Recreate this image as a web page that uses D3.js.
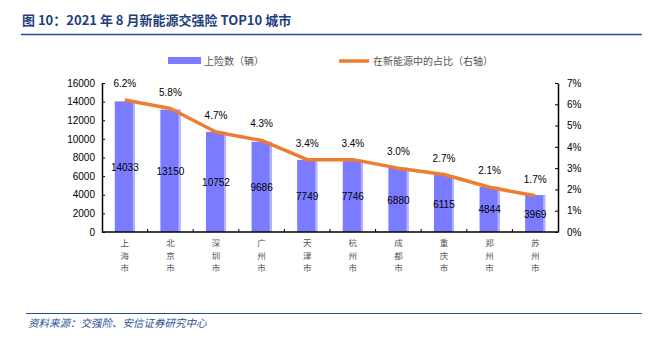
<!DOCTYPE html>
<html>
<head>
<meta charset="utf-8">
<script src="https://cdn.jsdelivr.net/npm/d3@7"></script>
<style>
  body { margin: 0; background: #fff; }
  svg { display: block; font-family: "Liberation Sans", Arial, sans-serif; }
</style>
</head>
<body>
<script>
// data
var cities  = ["上海市", "北京市", "深圳市", "广州市", "天津市", "杭州市", "成都市", "重庆市", "郑州市", "苏州市"];
var counts  = [14033, 13150, 10752, 9686, 7749, 7746, 6880, 6115, 4844, 3969];
var shares  = [6.2, 5.8, 4.7, 4.3, 3.4, 3.4, 3.0, 2.7, 2.1, 1.7];
var leftTicks  = [0, 2000, 4000, 6000, 8000, 10000, 12000, 14000, 16000];
var rightTicks = [0, 1, 2, 3, 4, 5, 6, 7];

var width = 656, height = 343;
var plotLeft = 102, plotRight = 558, plotTop = 83, plotBottom = 232;
var blue = "#1f4e9a", barColor = "#7b7bff", lineColor = "#ed7d31";

var svg = d3.select("body").append("svg")
    .attr("width", width)
    .attr("height", height);

// title + rule
svg.append("text")
    .attr("x", 22).attr("y", 25)
    .attr("font-family", "'Noto Sans CJK SC', sans-serif")
    .attr("font-size", 13).attr("font-weight", "bold")
    .attr("fill", "#1f3f7f")
    .text("图 10：2021 年 8 月新能源交强险 TOP10 城市");
svg.append("line")
    .attr("x1", 21).attr("x2", 642).attr("y1", 34.5).attr("y2", 34.5)
    .attr("stroke", blue).attr("stroke-width", 1.5);

var x = d3.scaleBand().domain(cities).range([plotLeft, plotRight]).paddingInner(0.56).paddingOuter(0.28);
var xb = d3.scaleBand().domain(cities).range([plotLeft, plotRight]);
var yL = d3.scaleLinear().domain([0, 16000]).range([plotBottom, plotTop]);
var yR = d3.scaleLinear().domain([0, 7]).range([plotBottom, plotTop]);

// bars
var bars = svg.append("g").selectAll("g").data(counts).enter().append("g");
bars.append("rect")
    .attr("x", function (d, i) { return x(cities[i]); })
    .attr("y", function (d) { return yL(d); })
    .attr("width", x.bandwidth())
    .attr("height", function (d) { return plotBottom - yL(d); })
    .attr("fill", barColor);
bars.append("rect")
    .attr("x", function (d, i) { return x(cities[i]) + x.bandwidth() - 2; })
    .attr("y", function (d) { return yL(d); })
    .attr("width", 2)
    .attr("height", function (d) { return plotBottom - yL(d); })
    .attr("fill", "#b4b4ff");
bars.append("text")
    .attr("x", function (d, i) { return x(cities[i]) + x.bandwidth() / 2; })
    .attr("y", function (d) { return (yL(d) + plotBottom) / 2 + 4; })
    .attr("text-anchor", "middle")
    .attr("font-size", 10).attr("fill", "#000")
    .text(function (d) { return d; });

// share line
var cx = function (i) { return x(cities[i]) + x.bandwidth() / 2; };
svg.append("path")
    .datum(shares)
    .attr("fill", "none")
    .attr("stroke", lineColor)
    .attr("stroke-width", 3.5)
    .attr("stroke-linejoin", "round")
    .attr("d", d3.line().x(function (d, i) { return cx(i); }).y(function (d) { return yR(d); }));
svg.append("g").selectAll("text").data(shares).enter().append("text")
    .attr("x", function (d, i) { return cx(i); })
    .attr("y", function (d) { return yR(d) - 13; })
    .attr("text-anchor", "middle")
    .attr("font-size", 10).attr("fill", "#000")
    .text(function (d) { return d.toFixed(1) + "%"; });

// axes
var axisL = svg.append("g").attr("transform", "translate(" + plotLeft + ",0)")
    .call(d3.axisLeft(yL).tickValues(leftTicks).tickSizeInner(-3).tickSizeOuter(0).tickPadding(7)
        .tickFormat(function (d) { return d; }));
var axisR = svg.append("g").attr("transform", "translate(" + plotRight + ",0)")
    .call(d3.axisRight(yR).tickValues(rightTicks).tickSizeInner(-3).tickSizeOuter(0).tickPadding(9)
        .tickFormat(function (d) { return d + "%"; }));
[axisL, axisR].forEach(function (a) {
    a.selectAll("text").attr("font-size", 10).attr("fill", "#000").attr("font-family", "'Liberation Sans', Arial, sans-serif");
    a.select(".domain").attr("stroke", "#000").attr("stroke-width", 1.5);
    a.selectAll(".tick line").attr("stroke", "#000");
});

svg.append("line")
    .attr("x1", plotLeft).attr("x2", plotRight).attr("y1", plotBottom).attr("y2", plotBottom)
    .attr("stroke", "#000").attr("stroke-width", 1.5);
svg.append("g").selectAll("line").data(cities.slice(1)).enter().append("line")
    .attr("x1", function (d) { return xb(d); }).attr("x2", function (d) { return xb(d); })
    .attr("y1", plotBottom).attr("y2", plotBottom - 3)
    .attr("stroke", "#000");

// vertical category labels, one character per line
var catLabels = svg.append("g").selectAll("g").data(cities).enter().append("g");
catLabels.selectAll("text")
    .data(function (d, i) { return d.split("").map(function (c) { return { c: c, i: i }; }); })
    .enter().append("text")
    .attr("text-anchor", "middle")
    .attr("font-family", "'Noto Sans CJK SC', sans-serif")
    .attr("font-size", 8.5).attr("fill", "#555")
    .attr("x", function (d) { return cx(d.i); })
    .attr("y", function (d, j) { return 246 + j * 12.5; })
    .text(function (d) { return d.c; });

// legend
var lg = svg.append("g").attr("font-family", "'Noto Sans CJK SC', sans-serif").attr("font-size", 10).attr("fill", "#555");
lg.append("rect").attr("x", 168).attr("y", 57).attr("width", 33).attr("height", 7).attr("fill", barColor);
lg.append("text").attr("x", 204).attr("y", 65).text("上险数（辆）");
lg.append("line").attr("x1", 339).attr("x2", 369).attr("y1", 61).attr("y2", 61)
    .attr("stroke", lineColor).attr("stroke-width", 3.5);
lg.append("text").attr("x", 373).attr("y", 65).text("在新能源中的占比（右轴）");

// source
svg.append("line")
    .attr("x1", 26).attr("x2", 642).attr("y1", 313.5).attr("y2", 313.5)
    .attr("stroke", blue).attr("stroke-width", 1.2);
svg.append("text")
    .attr("x", 28).attr("y", 327)
    .attr("font-family", "'Noto Sans CJK SC', sans-serif")
    .attr("font-size", 10.5).attr("font-style", "italic")
    .attr("fill", "#2a4f9a")
    .text("资料来源：交强险、安信证券研究中心");
</script>
</body>
</html>
